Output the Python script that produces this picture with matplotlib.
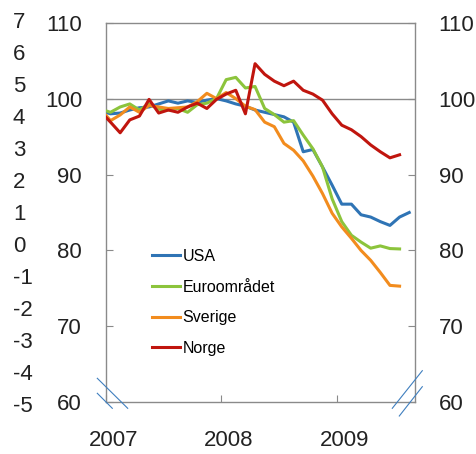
import numpy as np
import matplotlib
matplotlib.use("Agg")
import matplotlib.pyplot as plt
from matplotlib.lines import Line2D

plt.rcParams['font.family'] = ['Liberation Sans', 'DejaVu Sans']

# Monthly index values, starting Dec 2006
norge = [98.25, 96.9, 95.5, 97.2, 97.7, 99.9, 98.1, 98.5, 98.2, 98.9, 99.4, 98.7, 99.9,
         100.6, 101.1, 98.0, 104.6, 103.2, 102.3, 101.7, 102.3, 101.1, 100.6, 99.8,
         98.0, 96.5, 95.9, 95.0, 93.9, 93.0, 92.2, 92.6]
usa = [98.4, 98.0, 98.1, 98.5, 98.8, 98.9, 99.3, 99.7, 99.4, 99.7, 99.5, 99.8, 100.0,
       99.7, 99.3, 99.0, 98.5, 98.2, 97.9, 97.6, 96.9, 93.0, 93.3, 91.0,
       88.6, 86.1, 86.1, 84.7, 84.4, 83.8, 83.3, 84.4, 85.0]
euro = [98.6, 98.2, 98.9, 99.3, 98.5, 99.3, 98.6, 98.5, 98.7, 98.2, 99.2, 99.4, 100.0,
        102.5, 102.8, 101.4, 101.6, 98.7, 97.9, 96.9, 97.1, 95.2, 93.4, 91.0,
        86.8, 83.8, 82.0, 81.1, 80.3, 80.6, 80.25, 80.2]
sverige = [98.6, 97.1, 97.85, 98.9, 98.2, 99.1, 98.9, 98.7, 98.8, 98.9, 99.6, 100.7, 100.0,
           100.8, 100.0, 99.0, 98.55, 96.9, 96.3, 94.1, 93.2, 91.8, 89.8, 87.5,
           84.9, 83.1, 81.6, 80.0, 78.7, 77.1, 75.4, 75.3]

series = [("USA", usa, "#2f74b5"), ("Euroområdet", euro, "#8cc43c"),
          ("Sverige", sverige, "#f28c1e"), ("Norge", norge, "#c0150e")]

year_labels = ["2007", "2008", "2009"]
yticks = [60, 70, 80, 90, 100, 110]
extra_labels = ["7", "6", "5", "4", "3", "2", "1", "0", "-1", "-2", "-3", "-4", "-5"]

W, H = 477, 454
fig = plt.figure(figsize=(W / 100, H / 100), dpi=100)
ax = fig.add_axes([105.7 / W, 1 - 402.3 / H, (415 - 105.7) / W, (402.3 - 22.7) / H])

grey = "#8a8a8a"
ax.axhline(100, color=grey, lw=1.0, zorder=1)
for name, vals, col in series:
    x = np.arange(len(vals)) - 0.5
    ax.plot(x, vals, color=col, lw=2.2, label=name, solid_joinstyle='round', zorder=3)

ax.set_xlim(0, 32.1)
ax.set_ylim(60, 110)
ax.set_yticks(yticks)
ax.set_yticklabels([str(v) for v in yticks])
ax.tick_params(axis='y', direction='in', length=5, width=0.8, color=grey,
               left=True, right=True, labelleft=True, labelright=True,
               labelsize=16, pad=17, labelcolor="#222222")
ax.set_xticks([0, 12, 24])
ax.set_xticklabels([])
ax.tick_params(axis='x', which='major', direction='in', length=5, width=0.8, color=grey)
ax.set_xticks([0.8, 12.8, 24.8], minor=True)
ax.set_xticklabels(year_labels, minor=True)
ax.tick_params(axis='x', which='minor', length=0, labelsize=16, pad=20, labelcolor="#222222")
for s in ax.spines.values():
    s.set_color(grey)
    s.set_linewidth(1.0)

# extra left column of labels
for i, t in enumerate(extra_labels):
    ypx = 22.7 + 32.0 * i
    fig.text(13 / W, 1 - ypx / H, t, ha='left', va='center', fontsize=16, color="#222222")

leg = ax.legend(loc='upper left', bbox_to_anchor=(152 / W, 1 - 249 / H),
                bbox_transform=fig.transFigure, frameon=False, fontsize=11.5,
                handlelength=1.75, handletextpad=0.15, labelspacing=0.98,
                borderpad=0, borderaxespad=0)

# axis break marks
bc = "#3f7fbf"
def fl(p1, p2):
    fig.add_artist(Line2D([p1[0] / W, p2[0] / W], [1 - p1[1] / H, 1 - p2[1] / H],
                          transform=fig.transFigure, color=bc, lw=0.8))
fl((97.3, 378.3), (127.7, 408.3))
fl((97.3, 393.3), (112.3, 408.3))
fl((392.3, 408.3), (422.3, 370.7))
fl((399.3, 416.0), (422.3, 386.7))

fig.savefig("out.png", dpi=100)
